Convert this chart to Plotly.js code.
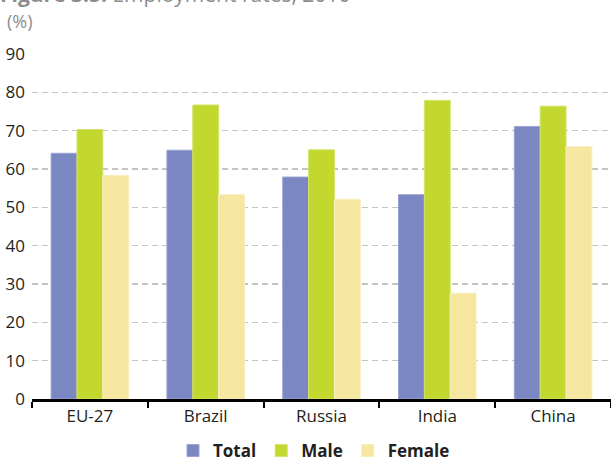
<!DOCTYPE html>
<html>
<head>
<meta charset="utf-8">
<script src="https://cdn.plot.ly/plotly-3.0.1.min.js"></script>
<style>
  html, body { margin: 0; padding: 0; background: #ffffff; }
  #chart { width: 611px; height: 460px; }
</style>
</head>
<body>
<div id="chart"></div>
<script>
// Employment rates by country group, 2010 (%)
const countries = ['EU-27', 'Brazil', 'Russia', 'India', 'China'];
const totalRates  = [64.1, 64.9, 57.9, 53.3, 71.1];
const maleRates   = [70.3, 76.7, 65.0, 77.9, 76.4];
const femaleRates = [58.3, 53.3, 52.1, 27.6, 65.8];
const yTicks = [0, 10, 20, 30, 40, 50, 60, 70, 80, 90];

const FONT = 'Open Sans, Noto Sans, sans-serif';
const W = 611, H = 460;
const M = { l: 32, r: 0, t: 54, b: 60.5 };
const plotW = W - M.l - M.r, plotH = H - M.t - M.b;
const px = x => (x - M.l) / plotW;
const py = y => (H - M.b - y) / plotH;

function barTrace(name, values, color, edge) {
  return {
    type: 'bar', name: name, x: countries, y: values,
    marker: { color: color, line: { color: edge, width: 1 } },
    hoverinfo: 'x+y'
  };
}

const data = [
  barTrace('Total',  totalRates,  '#7b87c2', '#9aa3d2'),
  barTrace('Male',   maleRates,   '#c2d82f', '#d3e36a'),
  barTrace('Female', femaleRates, '#f5e6a0', '#f8eebc')
];

const layout = {
  width: W, height: H,
  margin: Object.assign({ autoexpand: false }, M),
  paper_bgcolor: '#ffffff', plot_bgcolor: '#ffffff',
  font: { family: FONT, size: 15, color: '#231f20' },
  barmode: 'group', bargap: 0.33, bargroupgap: 0,
  showlegend: true,
  legend: {
    orientation: 'h',
    xref: 'container', yref: 'container',
    x: 314 / W, xanchor: 'center',
    y: 1 - 451 / H, yanchor: 'middle',
    font: { family: FONT, size: 17, color: '#231f20', weight: 'bold' },
    itemwidth: 30, tracegroupgap: 0
  },
  xaxis: {
    type: 'category',
    showline: true, linecolor: '#000000', linewidth: 2.5,
    ticks: 'outside', tickson: 'boundaries', ticklen: 6, tickwidth: 2, tickcolor: '#000000',
    showgrid: false, zeroline: false,
    tickfont: { family: FONT, size: 17, color: '#231f20' },
    fixedrange: true
  },
  yaxis: {
    range: [0, 90], tickvals: yTicks, ticktext: yTicks.map(String),
    showgrid: true, gridcolor: '#c4c4c4', gridwidth: 1.3, griddash: '6px,4px',
    zeroline: false, showline: false, ticks: '',
    ticklabelstandoff: 6,
    tickfont: { family: FONT, size: 17, color: '#231f20' },
    fixedrange: true
  },
  annotations: [
    {
      xref: 'paper', yref: 'paper', x: px(-2), y: py(10),
      xanchor: 'left', yanchor: 'bottom', showarrow: false,
      text: '<b>Figure 3.5:</b> Employment rates, 2010',
      font: { family: FONT, size: 21, color: '#8c8c8c' }
    },
    {
      xref: 'paper', yref: 'paper', x: px(5), y: py(20.5),
      xanchor: 'left', yanchor: 'middle', showarrow: false,
      text: '(%)',
      font: { family: FONT, size: 18, color: '#8c8c8c' }
    }
  ]
};

Plotly.newPlot('chart', data, layout, { displayModeBar: false, staticPlot: true });
</script>
</body>
</html>
